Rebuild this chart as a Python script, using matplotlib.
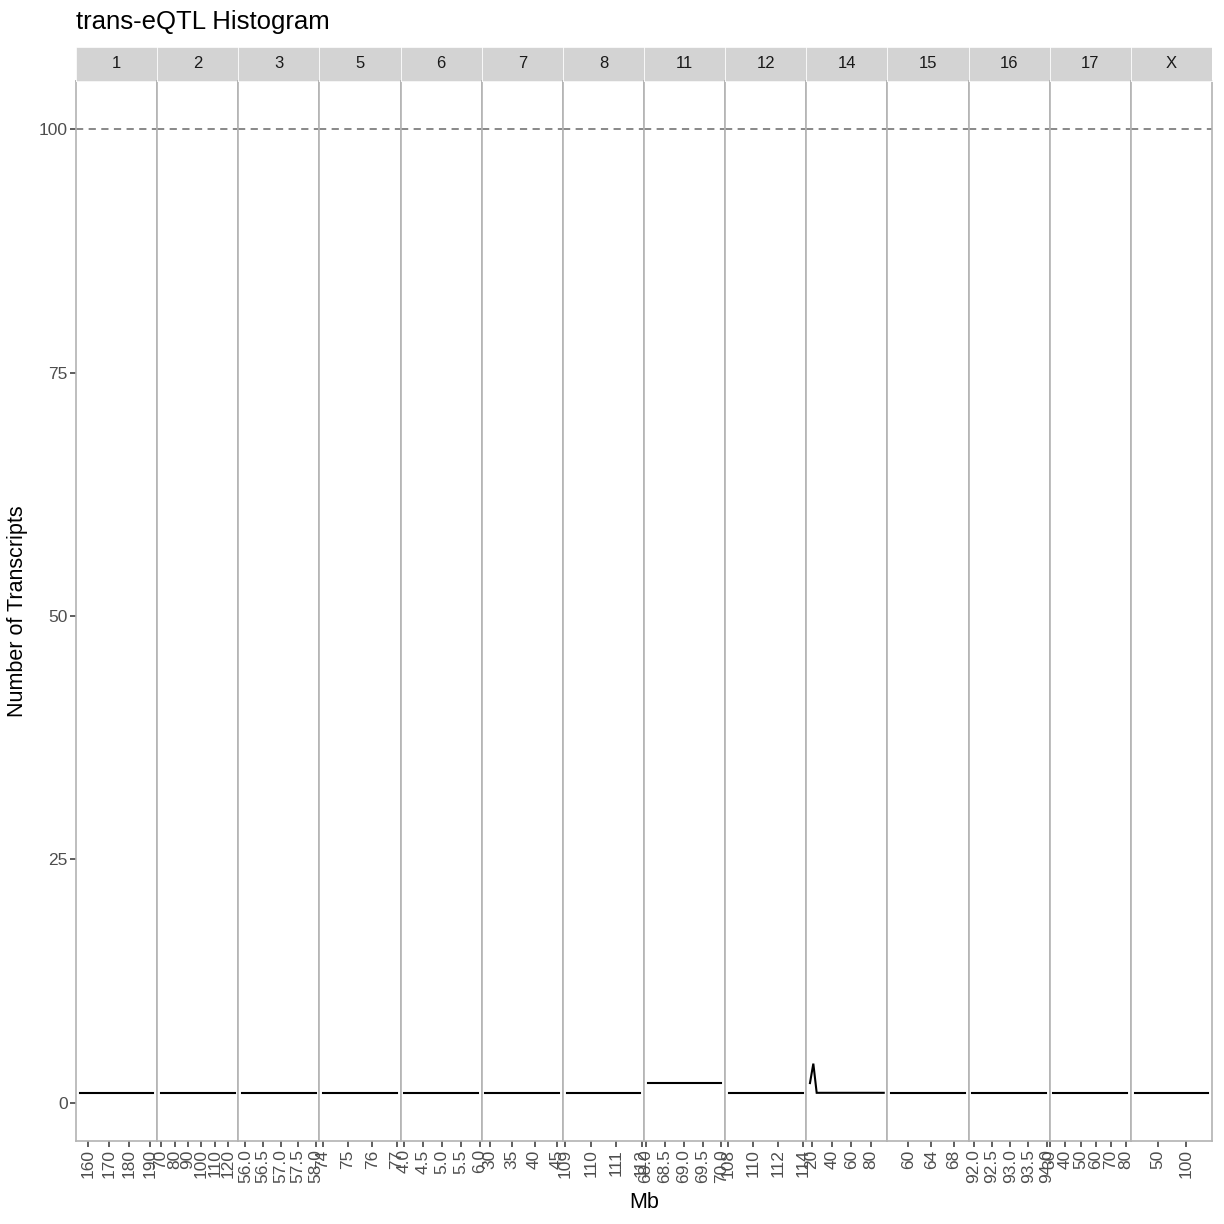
import matplotlib
matplotlib.use("Agg")
import matplotlib.pyplot as plt
import matplotlib.transforms as mtransforms

plt.rcParams['font.family'] = ['Liberation Sans', 'DejaVu Sans']

# chromosomes shown as facets
chroms = ['1', '2', '3', '5', '6', '7', '8', '11', '12', '14', '15', '16', '17', 'X']

# count line per chromosome (Mb, number of transcripts)
line_x = [[156.0, 191.6], [69.8, 124.8], [55.9, 58.0], [74.0, 77.0], [4.0, 5.95],
          [29.0, 45.5], [109.05, 111.95], [68.05, 70.0], [108.05, 113.97],
          [17.9, 21.3, 24.7, 92.7], [57.0, 69.9], [91.96, 93.98], [32.1, 80.7],
          [9.4, 138.3]]
line_y = [[1, 1], [1, 1], [1, 1], [1, 1], [1, 1], [1, 1], [1, 1], [2, 2], [1, 1],
          [2, 4, 1, 1], [1, 1], [1, 1], [1, 1], [1, 1]]

xticks = [[160, 170, 180, 190], [70, 80, 90, 100, 110, 120],
          [56.0, 56.5, 57.0, 57.5, 58.0], [74, 75, 76, 77],
          [4.0, 4.5, 5.0, 5.5, 6.0], [30, 35, 40, 45], [109, 110, 111, 112],
          [68.0, 68.5, 69.0, 69.5, 70.0], [108, 110, 112, 114], [20, 40, 60, 80],
          [60, 64, 68], [92.0, 92.5, 93.0, 93.5, 94.0], [30, 40, 50, 60, 70, 80],
          [50, 100]]
xlabels = [['160', '170', '180', '190'], ['70', '80', '90', '100', '110', '120'],
           ['56.0', '56.5', '57.0', '57.5', '58.0'], ['74', '75', '76', '77'],
           ['4.0', '4.5', '5.0', '5.5', '6.0'], ['30', '35', '40', '45'],
           ['109', '110', '111', '112'], ['68.0', '68.5', '69.0', '69.5', '70.0'],
           ['108', '110', '112', '114'], ['20', '40', '60', '80'], ['60', '64', '68'],
           ['92.0', '92.5', '93.0', '93.5', '94.0'], ['30', '40', '50', '60', '70', '80'],
           ['50', '100']]

threshold = 100
yticks = [0, 25, 50, 75, 100]

W = H = 1224
fig = plt.figure(figsize=(W / 100, H / 100), dpi=100, facecolor='white')

left, right, top, bottom = 76, 1212, 81, 1141
strip_top = 47
pw = (right - left) / len(chroms)
ylim = (-3.95, 104.95)

for i, ch in enumerate(chroms):
    x0 = left + i * pw
    ax = fig.add_axes([x0 / W, (H - bottom) / H, pw / W, (bottom - top) / H])
    ax.plot(line_x[i], line_y[i], color='black', lw=1.5, solid_joinstyle='miter')
    ax.axhline(threshold, color='#7f7f7f', lw=1.3, ls=(0, (4, 3)))
    xs = line_x[i]
    r = max(xs) - min(xs)
    ax.set_xlim(min(xs) - 0.05 * r, max(xs) + 0.05 * r)
    ax.set_ylim(*ylim)
    ax.set_xticks(xticks[i])
    ax.set_xticklabels(xlabels[i], rotation=90, fontsize=12.5, color='#4d4d4d')
    off = mtransforms.ScaledTranslation(3 / 100, -1 / 100, fig.dpi_scale_trans)
    for lab in ax.get_xticklabels():
        lab.set_transform(lab.get_transform() + off)
    ax.tick_params(axis='x', length=4, width=1.1, color='#333333', pad=2)
    if i == 0:
        ax.set_yticks(yticks)
        ax.set_yticklabels([str(v) for v in yticks], fontsize=12.5, color='#4d4d4d')
        ax.tick_params(axis='y', length=4, width=1.1, color='#333333', pad=2)
    else:
        ax.set_yticks([])
    for s in ax.spines.values():
        s.set_color('#b3b3b3')
        s.set_linewidth(1.2)

    sax = fig.add_axes([x0 / W, (H - top) / H, pw / W, (top - strip_top) / H])
    sax.set_facecolor('#d3d3d3')
    sax.set_xticks([]); sax.set_yticks([])
    for s in sax.spines.values():
        s.set_color('white')
        s.set_linewidth(0.6)
    sax.text(0.5, 0.5, ch, ha='center', va='center', fontsize=12, color='#1a1a1a',
             transform=sax.transAxes)

fig.text(76 / W, 1 - 22 / H, 'trans-eQTL Histogram', fontsize=18.5, ha='left', va='center')
fig.text((left + right) / 2 / W, 1 - 1202 / H, 'Mb', fontsize=15.5, ha='center', va='center')
fig.text(18 / W, 1 - 611 / H, 'Number of Transcripts', fontsize=15.5, ha='center',
         va='center', rotation=90)

fig.savefig('out.png', dpi=100, facecolor='white')
